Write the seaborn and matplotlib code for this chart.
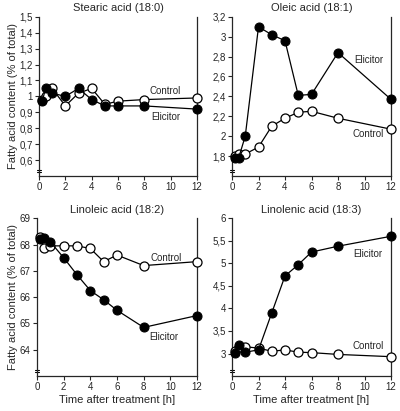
import matplotlib
matplotlib.use("Agg")
import matplotlib.pyplot as plt
import seaborn as sns

sns.set_style("ticks")
plt.rcParams['font.family'] = ['Liberation Sans', 'DejaVu Sans']

# tiempos de muestreo (h)
time_h = [0.25, 0.5, 1, 2, 3, 4, 5, 6, 8, 12]

stearic_elicitor = [0.97, 1.05, 1.02, 1.00, 1.05, 0.98, 0.94, 0.94, 0.94, 0.92]
stearic_control = [0.98, 1.00, 1.05, 0.94, 1.02, 1.05, 0.95, 0.97, 0.98, 0.99]

oleic_elicitor = [1.78, 1.78, 2.00, 3.10, 3.02, 2.96, 2.41, 2.42, 2.84, 2.37]
oleic_control = [1.80, 1.82, 1.82, 1.89, 2.10, 2.18, 2.24, 2.25, 2.18, 2.07]

linoleic_elicitor = [68.2, 68.25, 68.1, 67.5, 66.85, 66.25, 65.9, 65.5, 64.85, 65.3]
linoleic_control = [68.3, 67.85, 67.95, 67.95, 67.95, 67.85, 67.35, 67.6, 67.2, 67.35]

linolenic_elicitor = [3.02, 3.18, 3.03, 3.08, 3.9, 4.72, 4.97, 5.25, 5.38, 5.6]
linolenic_control = [3.05, 3.15, 3.15, 3.12, 3.05, 3.08, 3.03, 3.02, 2.98, 2.93]

titles = ["Stearic acid (18:0)", "Oleic acid (18:1)", "Linoleic acid (18:2)", "Linolenic acid (18:3)"]
series = [(stearic_control, stearic_elicitor), (oleic_control, oleic_elicitor),
          (linoleic_control, linoleic_elicitor), (linolenic_control, linolenic_elicitor)]
ylims = [(0.5, 1.5), (1.6, 3.2), (63, 69), (2.5, 6)]
yticks = [[0.6, 0.7, 0.8, 0.9, 1.0, 1.1, 1.2, 1.3, 1.4, 1.5],
          [1.8, 2.0, 2.2, 2.4, 2.6, 2.8, 3.0, 3.2],
          [64, 65, 66, 67, 68, 69],
          [3, 3.5, 4, 4.5, 5, 5.5, 6]]
ytick_labels = [["0,6", "0,7", "0,8", "0,9", "1", "1,1", "1,2", "1,3", "1,4", "1,5"],
                ["1,8", "2", "2,2", "2,4", "2,6", "2,8", "3", "3,2"],
                ["64", "65", "66", "67", "68", "69"],
                ["3", "3,5", "4", "4,5", "5", "5,5", "6"]]
# posiciones de las etiquetas (control, elicitor)
label_pos = [((9.6, 1.035), (9.6, 0.87)), ((10.3, 2.02), (10.3, 2.77)),
             ((9.7, 67.47), (9.5, 64.5)), ((10.3, 3.17), (10.25, 5.2))]

fig = plt.figure(figsize=(4.0, 4.11), dpi=100)
rects = [[0.0975, 0.572, 0.395, 0.387], [0.58, 0.572, 0.3975, 0.387],
         [0.0925, 0.085, 0.4, 0.384], [0.58, 0.085, 0.3975, 0.384]]

for i, rect in enumerate(rects):
    ax = fig.add_axes(rect)
    control, elicitor = series[i]
    sns.lineplot(x=time_h, y=control, ax=ax, color="black", lw=0.9, marker="o",
                 markersize=6.5, markerfacecolor="white", markeredgecolor="black",
                 markeredgewidth=0.9, clip_on=False, zorder=3)
    sns.lineplot(x=time_h, y=elicitor, ax=ax, color="black", lw=0.9, marker="o",
                 markersize=6.5, markerfacecolor="black", markeredgecolor="black",
                 clip_on=False, zorder=4)
    ax.set_xlim(0, 12)
    ax.set_ylim(*ylims[i])
    ax.set_xticks([0, 2, 4, 6, 8, 10, 12])
    ax.set_yticks(yticks[i])
    ax.set_yticklabels(ytick_labels[i])
    ax.tick_params(labelsize=7, length=3, width=0.8, pad=1.5)
    ax.spines["top"].set_visible(False)
    for s in ["left", "right", "bottom"]:
        ax.spines[s].set_linewidth(0.9)
    ax.set_title(titles[i], fontsize=8, pad=4)
    (cx, cy), (ex, ey) = label_pos[i]
    ax.text(cx, cy, "Control", fontsize=7, ha="center", va="center")
    ax.text(ex, ey, "Elicitor", fontsize=7, ha="center", va="center")
    # marca de eje cortado
    ax.plot([-0.012, 0.012], [0.025, 0.025], transform=ax.transAxes, color="black",
            lw=0.8, clip_on=False)
    ax.plot([-0.012, 0.012], [0.04, 0.04], transform=ax.transAxes, color="black",
            lw=0.8, clip_on=False)
    if i % 2 == 0:
        ax.set_ylabel("Fatty acid content (% of total)", fontsize=8, labelpad=1)
    if i >= 2:
        ax.set_xlabel("Time after treatment [h]", fontsize=8, labelpad=2)

fig.savefig("out.png", dpi=100)
